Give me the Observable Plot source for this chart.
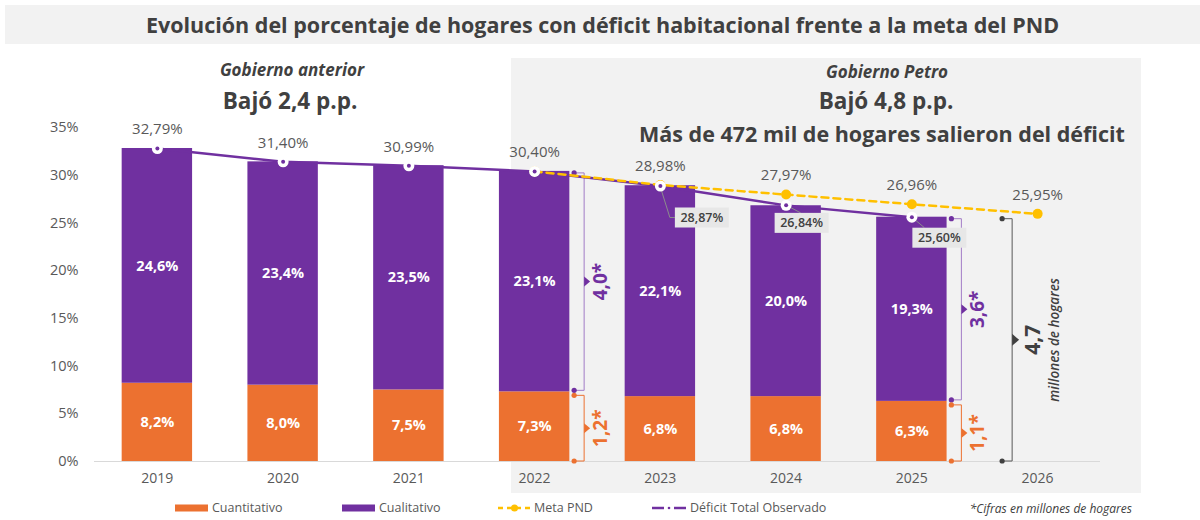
<!DOCTYPE html>
<html>
<head>
<meta charset="utf-8">
<script src="https://cdn.jsdelivr.net/npm/d3@7"></script>
<script src="https://cdn.jsdelivr.net/npm/@observablehq/plot@0.6"></script>
<style>
  body { margin: 0; background: #fff; }
  #wrap { position: relative; width: 1200px; height: 520px; font-family: "Open Sans", Lato, sans-serif; color: #404040; overflow: hidden; }
  .abs { position: absolute; white-space: nowrap; }
  .ctr { text-align: center; width: 600px; }
  #chart { position: absolute; left: 0; top: 50px; }
  #chart svg { background: transparent !important; overflow: visible; }
  .leg { position: absolute; top: 500px; font-size: 12.5px; color: #595959; line-height: 16px; display: flex; align-items: center; }
</style>
</head>
<body>
<div id="wrap">
  <div class="abs" style="left:5px;top:5px;width:1195px;height:39px;background:#f2f2f2;"></div>
  <div class="abs" id="title" style="left:5px;top:5px;width:1195px;height:39px;line-height:39px;text-align:center;font-size:21.5px;font-weight:700;color:#404040;"></div>
  <div class="abs" style="left:511px;top:58px;width:630px;height:435px;background:#f2f2f2;"></div>

  <div class="abs ctr" id="govA" style="left:-8px;top:59px;font-size:17px;line-height:22px;font-weight:700;font-style:italic;"></div>
  <div class="abs ctr" id="govAsub" style="left:-10px;top:86px;font-size:22.5px;line-height:30px;font-weight:700;"></div>
  <div class="abs ctr" id="govB" style="left:587px;top:61px;font-size:17px;line-height:22px;font-weight:700;font-style:italic;"></div>
  <div class="abs ctr" id="govBsub" style="left:586px;top:86px;font-size:22.5px;line-height:30px;font-weight:700;"></div>
  <div class="abs ctr" id="govBsub2" style="left:582px;top:119px;font-size:21.5px;line-height:30px;font-weight:700;"></div>

  <div id="chart"></div>

  <div class="leg" style="left:175px;"><svg width="33" height="8"><rect width="33" height="7" y="0.5" fill="#ec7130"/></svg><span id="lg0" style="margin-left:4px"></span></div>
  <div class="leg" style="left:342px;"><svg width="33" height="8"><rect width="33" height="7" y="0.5" fill="#7030a0"/></svg><span id="lg1" style="margin-left:4px"></span></div>
  <div class="leg" style="left:498px;"><svg width="33" height="10"><line x1="0" x2="33" y1="5" y2="5" stroke="#ffc000" stroke-width="2.5" stroke-dasharray="5,4"/><circle cx="16.5" cy="5" r="3.5" fill="#ffc000"/></svg><span id="lg2" style="margin-left:3px"></span></div>
  <div class="leg" style="left:652px;"><svg width="34" height="10"><line x1="0" x2="12" y1="5" y2="5" stroke="#7030a0" stroke-width="2.5"/><circle cx="17" cy="5" r="1.3" fill="#7030a0"/><line x1="22" x2="34" y1="5" y2="5" stroke="#7030a0" stroke-width="2.5"/></svg><span id="lg3" style="margin-left:4px"></span></div>
  <div class="abs" id="caption" style="right:68px;top:501px;font-size:12px;line-height:16px;font-style:italic;color:#404040;"></div>
</div>
<script>
// ---------- data ----------
const titleText = "Evolución del porcentaje de hogares con déficit habitacional frente a la meta del PND";
const govALabel = "Gobierno anterior";
const govASub = "Bajó 2,4 p.p.";
const govBLabel = "Gobierno Petro";
const govBSub = "Bajó 4,8 p.p.";
const govBSub2 = "Más de 472 mil de hogares salieron del déficit";
const legendLabels = ["Cuantitativo", "Cualitativo", "Meta PND", "Déficit Total Observado"];
const captionText = "*Cifras en millones de hogares";

const years = ["2019", "2020", "2021", "2022", "2023", "2024", "2025", "2026"];
const barYears = ["2019", "2020", "2021", "2022", "2023", "2024", "2025"];
const cuantitativo = [8.2, 8.0, 7.5, 7.3, 6.8, 6.8, 6.3];
const cualitativo = [24.6, 23.4, 23.5, 23.1, 22.1, 20.0, 19.3];
const deficitObservado = [32.79, 31.40, 30.99, 30.40, 28.87, 26.84, 25.60];
const metaYears = ["2022", "2023", "2024", "2025", "2026"];
const metaPND = [30.40, 28.98, 27.97, 26.96, 25.95];
const topLabelValues = [32.79, 31.40, 30.99, 30.40, 28.98, 27.97, 26.96, 25.95];
const boxYears = ["2023", "2024", "2025"];
const boxValues = [28.87, 26.84, 25.60];
const yTicks = [0, 5, 10, 15, 20, 25, 30, 35];

// brackets (values in millions of households)
const bracketYears = ["2022", "2022", "2025", "2025"];
const bracketKinds = ["Cualitativo", "Cuantitativo", "Cualitativo", "Cuantitativo"];
const bracketLabels = ["4,0*", "1,2*", "3,6*", "1,1*"];
const totalBracketYear = "2026";
const totalBracketLabel = "4,7";
const totalBracketNote = "millones de hogares";

// ---------- text ----------
document.getElementById("title").textContent = titleText;
document.getElementById("govA").textContent = govALabel;
document.getElementById("govAsub").textContent = govASub;
document.getElementById("govB").textContent = govBLabel;
document.getElementById("govBsub").textContent = govBSub;
document.getElementById("govBsub2").textContent = govBSub2;
legendLabels.forEach((t, i) => document.getElementById("lg" + i).textContent = t);
document.getElementById("caption").textContent = captionText;

// ---------- derived tables ----------
const fmt = (v, d) => v.toFixed(d).replace(".", ",") + "%";
const ORANGE = "#ec7130", PURPLE = "#7030a0", YELLOW = "#ffc000";
const FONT = "'Open Sans', Lato, sans-serif";

const barRows = barYears.flatMap((y, i) => [
  {year: y, type: "Cuantitativo", value: cuantitativo[i]},
  {year: y, type: "Cualitativo", value: cualitativo[i]}
]);
const obsRows = barYears.map((y, i) => ({year: y, value: deficitObservado[i]}));
const metaRows = metaYears.map((y, i) => ({year: y, value: metaPND[i]}));
const topRows = years.map((y, i) => ({year: y, value: topLabelValues[i]}));
const boxRows = boxYears.map((y, i) => ({year: y, value: boxValues[i]}));

function segOf(year, kind) {
  const i = barYears.indexOf(year);
  const q = cuantitativo[i], c = cualitativo[i];
  return kind === "Cuantitativo" ? [q, 0] : [q + c, q];
}

// pixel styling for the value boxes (offsets from the point)
const boxStyle = {
  "2023": {bx: 15, by: 22, lead: [[10, 32], [15, 32]]},
  "2024": {bx: -11, by: 8, lead: [[15, 8]]},
  "2025": {bx: 1, by: 11, lead: [[13, 11]]}
};

function annotations(index, scales) {
  const sx = scales.x, sy = scales.y;
  const bw = typeof sx.bandwidth === "function" ? sx.bandwidth() : 0;
  const cx = yr => sx(yr) + bw / 2;
  const g = d3.create("svg:g").attr("font-family", FONT);

  // component brackets
  bracketYears.forEach((yr, i) => {
    const kind = bracketKinds[i];
    const [hi, lo] = segOf(yr, kind);
    const c = cx(yr);
    const isQ = kind === "Cuantitativo";
    const lineCol = isQ ? ORANGE : "#a27cc6";
    const dotCol = isQ ? ORANGE : PURPLE;
    const y1 = sy(hi) + (isQ ? 4 : 2), y2 = sy(lo) - (isQ ? 0 : 1);
    const dxDot = 40, dxLine = 50;
    g.append("path").attr("d", `M${c + dxDot},${y1}H${c + dxLine}V${y2}H${c + dxDot}`)
      .attr("fill", "none").attr("stroke", lineCol).attr("stroke-width", 1);
    [y1, y2].forEach(yy => g.append("circle").attr("cx", c + dxDot).attr("cy", yy).attr("r", 2.6).attr("fill", dotCol));
    const my = (y1 + y2) / 2;
    g.append("path").attr("d", `M${c + dxLine},${my - 5}L${c + dxLine + 6},${my}L${c + dxLine},${my + 5}Z`).attr("fill", dotCol);
    g.append("text").attr("transform", `translate(${c + dxLine + 16},${my}) rotate(-90)`)
      .attr("text-anchor", "middle").attr("dominant-baseline", "central")
      .attr("font-size", 19).attr("font-weight", 700).attr("fill", dotCol)
      .text(bracketLabels[i]);
  });

  // total bracket
  {
    const c = cx(totalBracketYear);
    const lastTotal = deficitObservado[deficitObservado.length - 1];
    const y1 = sy(lastTotal) + 2, y2 = sy(0);
    const dDot = -35, dLine = -25;
    g.append("path").attr("d", `M${c + dDot},${y1}H${c + dLine}V${y2}H${c + dDot}`)
      .attr("fill", "none").attr("stroke", "#595959").attr("stroke-width", 1);
    [y1, y2].forEach(yy => g.append("circle").attr("cx", c + dDot).attr("cy", yy).attr("r", 2.6).attr("fill", "#404040"));
    const my = (y1 + y2) / 2;
    g.append("path").attr("d", `M${c + dLine},${my - 6}L${c + dLine + 7},${my}L${c + dLine},${my + 6}Z`).attr("fill", "#404040");
    g.append("text").attr("transform", `translate(${c + dLine + 20},${my}) rotate(-90)`)
      .attr("text-anchor", "middle").attr("dominant-baseline", "central")
      .attr("font-size", 21).attr("font-weight", 700).attr("fill", "#404040")
      .text(totalBracketLabel);
    g.append("text").attr("transform", `translate(${c + dLine + 42},${my}) rotate(-90)`)
      .attr("text-anchor", "middle").attr("dominant-baseline", "central")
      .attr("font-size", 13.5).attr("font-weight", 600).attr("font-style", "italic").attr("fill", "#404040")
      .text(totalBracketNote);
  }

  // observed value boxes with leader lines
  boxRows.forEach(d => {
    const s = boxStyle[d.year];
    const px = cx(d.year), py = sy(d.value);
    let path = `M${px},${py}`;
    s.lead.forEach(([a, b]) => path += `L${px + a},${py + b}`);
    g.append("path").attr("d", path).attr("fill", "none").attr("stroke", "#8c8c8c").attr("stroke-width", 1);
    g.append("rect").attr("x", px + s.bx).attr("y", py + s.by).attr("width", 54).attr("height", 20).attr("fill", "#e7e7e7");
    g.append("text").attr("x", px + s.bx + 27).attr("y", py + s.by + 10)
      .attr("text-anchor", "middle").attr("dominant-baseline", "central")
      .attr("font-size", 12.5).attr("font-weight", 600).attr("fill", "#404040")
      .text(fmt(d.value, 2));
  });
  return g.node();
}

const chart = Plot.plot({
  width: 1200,
  height: 450,
  marginLeft: 94,
  marginRight: 100,
  marginTop: 77,
  marginBottom: 39,
  style: {background: "transparent", fontFamily: FONT, color: "#595959", overflow: "visible"},
  x: {domain: years, paddingInner: 0.44, paddingOuter: 0.22, round: false, label: null},
  y: {domain: [0, 35], label: null},
  color: {domain: ["Cuantitativo", "Cualitativo"], range: [ORANGE, PURPLE]},
  marks: [
    Plot.axisY({ticks: yTicks, tickFormat: d => d + "%", tickSize: 0, tickPadding: 16, fontSize: 14.5, fill: "#595959"}),
    Plot.axisX({tickSize: 0, tickPadding: 12, fontSize: 14, fill: "#595959"}),
    Plot.ruleY([0], {stroke: "#d9d9d9", strokeWidth: 1.2}),
    Plot.barY(barRows, {x: "year", y: "value", fill: "type"}),
    Plot.text(barRows, Plot.stackY({x: "year", y: "value", text: d => fmt(d.value, 1), fill: "white", fontWeight: 700, fontSize: 14.5})),
    annotations,
    Plot.line(obsRows, {x: "year", y: "value", stroke: PURPLE, strokeWidth: 2.5}),
    Plot.line(metaRows, {x: "year", y: "value", stroke: YELLOW, strokeWidth: 2.5, strokeDasharray: "7,5"}),
    Plot.dot(metaRows, {x: "year", y: "value", r: 5, fill: YELLOW}),
    Plot.dot(obsRows, {x: "year", y: "value", r: 5.5, fill: "white"}),
    Plot.dot(obsRows, {x: "year", y: "value", r: 2, fill: PURPLE}),
    Plot.text(topRows, {x: "year", y: "value", text: d => fmt(d.value, 2), dy: -19, fontSize: 15, fill: "#595959"})
  ]
});
document.getElementById("chart").appendChild(chart);
</script>
</body>
</html>
